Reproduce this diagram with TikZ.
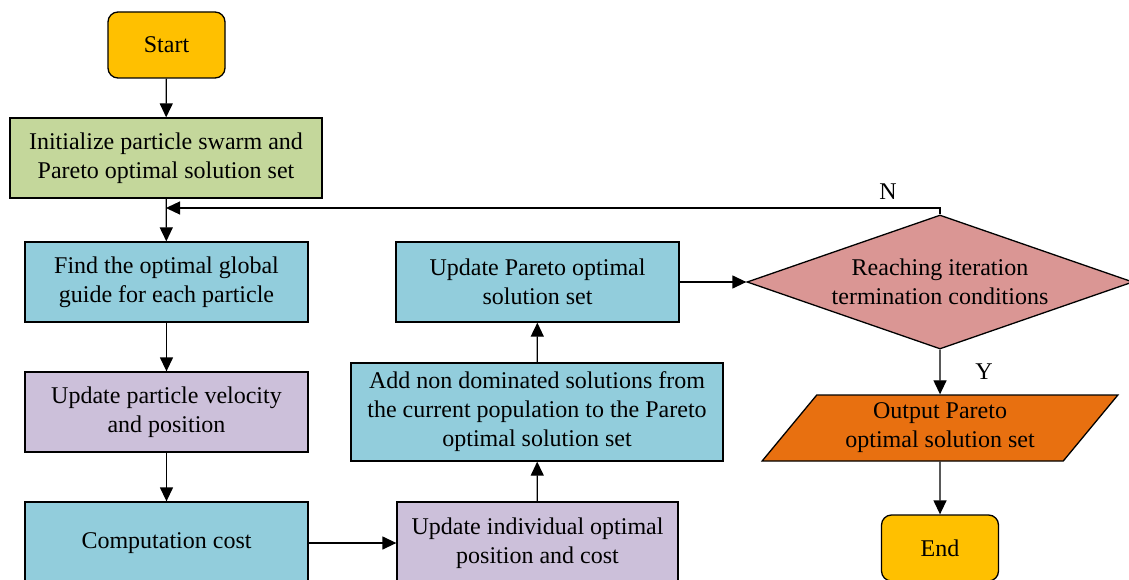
\documentclass[tikz,border=0pt]{standalone}
\usepackage{fontspec}
\setmainfont{Liberation Serif}
\usetikzlibrary{shapes.geometric,arrows.meta}
\definecolor{cyel}{HTML}{FFC000}
\definecolor{cgrn}{HTML}{C4D79B}
\definecolor{cblu}{HTML}{92CDDC}
\definecolor{cpur}{HTML}{CCC0DA}
\definecolor{cpnk}{HTML}{DA9694}
\definecolor{corg}{HTML}{E87010}
\begin{document}
\begin{tikzpicture}[x=1pt,y=-1pt,
  every node/.style={font=\fontsize{24pt}{29pt}\selectfont, text=black},
  box/.style={draw, line width=1.3pt, align=center, inner sep=0pt},
  term/.style={box, rounded corners=10pt, fill=cyel, minimum width=117pt, minimum height=66pt},
  arr/.style={line width=1.3pt, -{Triangle[length=14pt,width=13pt]}},
  lbl/.style={inner sep=0pt}]
\useasboundingbox (0,0) rectangle (1129,580);
\clip (0,0) rectangle (1129,580);
\node[term] (start) at (166.5,45) {Start};
\node[box, fill=cgrn, minimum width=312pt, minimum height=80pt] (init) at (166,158) {Initialize particle swarm and\\Pareto optimal solution set};
\node[box, fill=cblu, minimum width=283pt, minimum height=80pt] (find) at (166.5,282) {Find the optimal global\\guide for each particle};
\node[box, fill=cpur, minimum width=283pt, minimum height=80pt] (vel) at (166.5,412) {Update particle velocity\\and position};
\node[box, fill=cblu, minimum width=283pt, minimum height=82pt] (cost) at (166.5,543) {Computation cost};
\node[box, fill=cpur, minimum width=281pt, minimum height=82pt] (ind) at (537.5,543) {Update individual optimal\\position and cost};
\node[box, fill=cblu, minimum width=372pt, minimum height=98pt] (add) at (537,412) {Add non dominated solutions from\\the current population to the Pareto\\optimal solution set};
\node[box, fill=cblu, minimum width=283pt, minimum height=80pt] (upd) at (537.5,282) {Update Pareto optimal\\solution set};
\node[box, diamond, fill=cpnk, aspect=2.88, minimum width=386pt, minimum height=134pt] (dia) at (940,282) {Reaching iteration\\termination conditions};
\node[box, trapezium, trapezium left angle=50, trapezium right angle=130, trapezium stretches=true, fill=corg, minimum width=357pt, minimum height=66pt] (out) at (940,428) {Output Pareto\\optimal solution set};
\node[term] (end) at (940,548) {End};
\coordinate (j) at (166,208);
\draw[arr] (start) -- (init);
\draw[arr] (init) -- (find);
\draw[arr] (dia.north) |- (j);
\draw[arr] (find) -- (vel);
\draw[arr] (vel) -- (cost);
\draw[arr] (cost.east |- ind.west) -- (ind.west);
\draw[arr] (ind) -- (add);
\draw[arr] (add) -- (upd);
\draw[arr] (upd.east) -- (dia.west);
\draw[arr] (dia.south) -- (out.north);
\draw[arr] (out.south) -- (end.north);
\node[lbl] (n) at (888,192) {N};
\node[lbl] (y) at (984,372) {Y};
\end{tikzpicture}
\end{document}
